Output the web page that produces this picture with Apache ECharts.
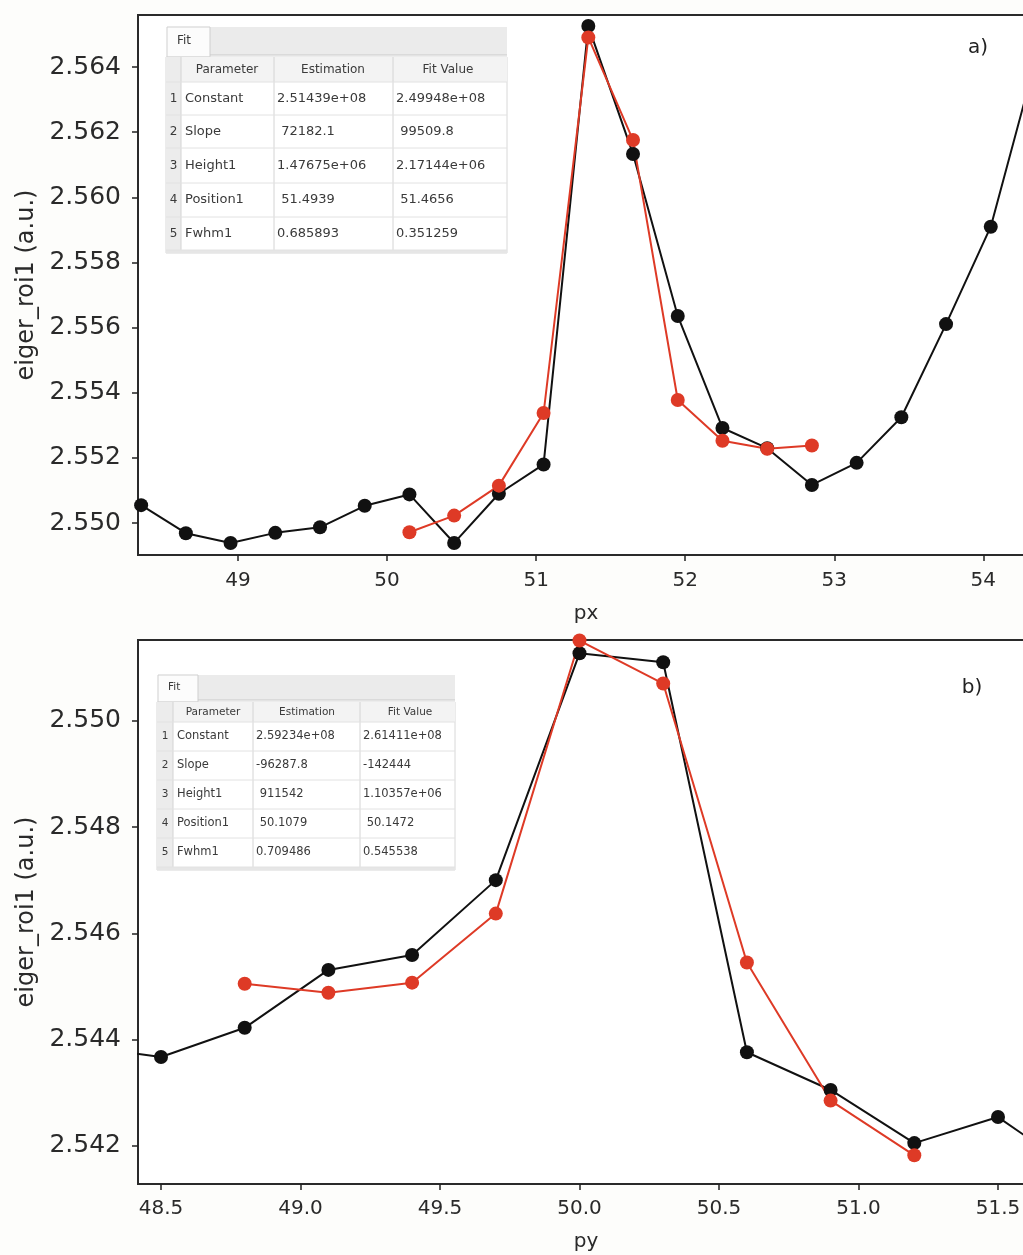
<!DOCTYPE html>
<html><head><meta charset="utf-8">
<script src="https://cdn.jsdelivr.net/npm/echarts@6/dist/echarts.min.js"></script>
<style>html,body{margin:0;padding:0;background:#fdfdfb}#c{width:1023px;height:1255px}</style>
</head><body><div id="c"></div>
<script>
// ---------- DATA ----------
// Panel a) scan along px
const pxPositions = [48.35, 48.65, 48.95, 49.25, 49.55, 49.85, 50.15, 50.45, 50.75, 51.05, 51.35, 51.65, 51.95, 52.25, 52.55, 52.85, 53.15, 53.45, 53.75, 54.05, 54.35];
const pxMeasured = [2.55055, 2.54969, 2.54939, 2.54970, 2.54987, 2.55053, 2.55088, 2.54939, 2.55090, 2.55180, 2.56526, 2.56133, 2.55636, 2.55292, 2.55230, 2.55117, 2.55185, 2.55325, 2.55611, 2.55910, 2.56420];
const pxFitPositions = [50.15, 50.45, 50.75, 51.05, 51.35, 51.65, 51.95, 52.25, 52.55, 52.85];
const pxFitValues = [2.54972, 2.55023, 2.55115, 2.55338, 2.56491, 2.56176, 2.55378, 2.55253, 2.55228, 2.55238];
// Panel b) scan along py
const pyPositions = [48.2, 48.5, 48.8, 49.1, 49.4, 49.7, 50.0, 50.3, 50.6, 50.9, 51.2, 51.5, 51.8];
const pyMeasured = [2.54388, 2.54367, 2.54422, 2.54531, 2.54559, 2.54700, 2.55127, 2.55110, 2.54376, 2.54305, 2.54205, 2.54254, 2.54145];
const pyFitPositions = [48.8, 49.1, 49.4, 49.7, 50.0, 50.3, 50.6, 50.9, 51.2];
const pyFitValues = [2.54505, 2.54488, 2.54507, 2.54637, 2.55151, 2.55070, 2.54545, 2.54285, 2.54182];
// Tick labels
const pxTicks = [49, 50, 51, 52, 53, 54];
const pyTicks = [48.5, 49.0, 49.5, 50.0, 50.5, 51.0, 51.5];
const yTicksA = [2.550, 2.552, 2.554, 2.556, 2.558, 2.560, 2.562, 2.564];
const yTicksB = [2.542, 2.544, 2.546, 2.548, 2.550];
// Fit tables
const tableHeaders = ['Parameter', 'Estimation', 'Fit Value'];
const fitParams = ['Constant', 'Slope', 'Height1', 'Position1', 'Fwhm1'];
const pxEstimation = ['2.51439e+08', ' 72182.1', '1.47675e+06', ' 51.4939', '0.685893'];
const pxFitValue = ['2.49948e+08', ' 99509.8', '2.17144e+06', ' 51.4656', '0.351259'];
const pyEstimation = ['2.59234e+08', '-96287.8', ' 911542', ' 50.1079', '0.709486'];
const pyFitValue = ['2.61411e+08', '-142444', '1.10357e+06', ' 50.1472', '0.545538'];
const xNameA = 'px', xNameB = 'py', yName = 'eiger_roi1 (a.u.)';
const panelTags = ['a)', 'b)'];

// ---------- STYLE / LAYOUT ----------
const FONT = '"DejaVu Sans", sans-serif';
const BLACK = '#111111', RED = '#de3a26';
const pairs = (xs, ys) => xs.map((x, i) => [x, ys[i]]);

function table(t) {
  const g = [];
  const txt = (x, y, s, size, align) => g.push({type: 'text', silent: true, z: 101,
    style: {x, y, text: s, font: size + 'px ' + FONT, fill: '#3a3a3a', align: align || 'left', verticalAlign: 'middle'}});
  const line = (x1, y1, x2, y2, c) => g.push({type: 'line', silent: true, z: 101,
    shape: {x1, y1, x2, y2}, style: {stroke: c || '#d4d4d4', lineWidth: 1}});
  g.push({type: 'rect', silent: true, z: 100, shape: {x: t.tabR, y: t.top, width: t.right - t.tabR, height: t.tabH}, style: {fill: '#ebebeb'}});
  g.push({type: 'rect', silent: true, z: 100, shape: {x: t.left + 1, y: t.top, width: t.tabR - t.left - 1, height: t.tabH + 2}, style: {fill: '#fcfcfc', stroke: '#cfcfcf', lineWidth: 1}});
  txt(t.left + 11, t.top + t.tabH / 2, 'Fit', t.fs - 1);
  line(t.tabR, t.top + t.tabH, t.right, t.top + t.tabH, '#c8c8c8');
  const bodyTop = t.head0;
  const bottom = t.rows[t.rows.length - 1];
  g.push({type: 'rect', silent: true, z: 100, shape: {x: t.left, y: bodyTop, width: t.right - t.left, height: bottom - bodyTop + 3}, style: {fill: '#ffffff', stroke: '#d8d8d8', lineWidth: 1}});
  g.push({type: 'rect', silent: true, z: 100, shape: {x: t.left, y: bodyTop, width: t.right - t.left, height: t.rows[0] - bodyTop}, style: {fill: '#f3f3f3'}});
  g.push({type: 'rect', silent: true, z: 100, shape: {x: t.left, y: bodyTop, width: t.cols[0] - t.left, height: bottom - bodyTop}, style: {fill: '#ececec'}});
  g.push({type: 'rect', silent: true, z: 100, shape: {x: t.left, y: bottom, width: t.right - t.left, height: 3}, style: {fill: '#e6e6e6'}});
  t.cols.forEach(c => line(c, bodyTop, c, bottom));
  t.rows.forEach(r => line(t.left, r, t.right, r, '#e2e2e2'));
  tableHeaders.forEach((h, i) => txt(t.headX[i], (bodyTop + t.rows[0]) / 2, h, t.fs - 1, 'center'));
  fitParams.forEach((p, i) => {
    const y = (t.rows[i] + t.rows[i + 1]) / 2;
    txt((t.left + t.cols[0]) / 2, y, String(i + 1), t.fs - 1, 'center');
    txt(t.cols[0] + 4, y, p, t.fs);
    txt(t.cols[1] + 3, y, t.est[i], t.fs);
    txt(t.cols[2] + 3, y, t.fit[i], t.fs);
  });
  return g;
}

const graphics = [].concat(
  table({left: 166, right: 507, top: 27, tabR: 210, tabH: 28, head0: 57, cols: [181, 274, 393],
         rows: [82, 115, 148, 183, 217, 250], headX: [227, 333, 448], est: pxEstimation, fit: pxFitValue, fs: 13}),
  table({left: 157, right: 455, top: 675, tabR: 198, tabH: 25, head0: 702, cols: [173, 253, 360],
         rows: [722, 751, 780, 809, 838, 867], headX: [213, 307, 410], est: pyEstimation, fit: pyFitValue, fs: 11.5}),
  [{type: 'text', z: 102, style: {x: 978, y: 48, text: panelTags[0], font: '20px ' + FONT, fill: '#222', align: 'center', verticalAlign: 'middle'}},
   {type: 'text', z: 102, style: {x: 972, y: 688, text: panelTags[1], font: '20px ' + FONT, fill: '#222', align: 'center', verticalAlign: 'middle'}}]
);

function xAxisCfg(idx, min, max, ticks, fmt, name, gap, margin) {
  return {type: 'value', gridIndex: idx, min, max, name, nameLocation: 'middle', nameGap: gap,
    nameTextStyle: {fontFamily: FONT, fontSize: 20, color: '#2a2a2a'},
    axisLine: {show: false}, splitLine: {show: false},
    axisTick: {show: true, length: 6, lineStyle: {color: '#222', width: 1.5}, customValues: ticks},
    axisLabel: {customValues: ticks, formatter: fmt, fontFamily: FONT, fontSize: 20, color: '#2a2a2a', margin}};
}
function yAxisCfg(idx, min, max, ticks) {
  return {type: 'value', gridIndex: idx, min, max, name: yName, nameLocation: 'middle', nameGap: 92,
    nameTextStyle: {fontFamily: FONT, fontSize: 24, color: '#2a2a2a'},
    axisLine: {show: false}, splitLine: {show: false},
    axisTick: {show: true, length: 6, lineStyle: {color: '#222', width: 1.5}, customValues: ticks},
    axisLabel: {customValues: ticks, formatter: v => v.toFixed(3), fontFamily: FONT, fontSize: 25, color: '#2a2a2a', margin: 17}};
}
function lineSeries(xi, data, color) {
  return {type: 'line', xAxisIndex: xi, yAxisIndex: xi, data, symbol: 'circle', symbolSize: 14, clip: true,
    lineStyle: {color, width: 2}, itemStyle: {color}, emphasis: {disabled: true}};
}

const chart = echarts.init(document.getElementById('c'), null, {renderer: 'canvas'});
chart.setOption({
  animation: false,
  backgroundColor: '#fdfdfb',
  grid: [
    {left: 138, top: 15, width: 896, height: 540, show: true, backgroundColor: '#ffffff', borderColor: '#2a2a2a', borderWidth: 2, containLabel: false, outerBoundsMode: 'none'},
    {left: 138, top: 640, width: 896, height: 544, show: true, backgroundColor: '#ffffff', borderColor: '#2a2a2a', borderWidth: 2, containLabel: false, outerBoundsMode: 'none'}
  ],
  xAxis: [
    xAxisCfg(0, 48.329, 54.34, pxTicks, v => String(v), xNameA, 49, 16),
    xAxisCfg(1, 48.4176, 51.629, pyTicks, v => v.toFixed(1), xNameB, 48, 15)
  ],
  yAxis: [
    yAxisCfg(0, 2.54902, 2.5656, yTicksA),
    yAxisCfg(1, 2.54128, 2.55152, yTicksB)
  ],
  series: [
    lineSeries(0, pairs(pxPositions, pxMeasured), BLACK),
    lineSeries(0, pairs(pxFitPositions, pxFitValues), RED),
    lineSeries(1, pairs(pyPositions, pyMeasured), BLACK),
    lineSeries(1, pairs(pyFitPositions, pyFitValues), RED)
  ],
  graphic: graphics
});
</script></body></html>
